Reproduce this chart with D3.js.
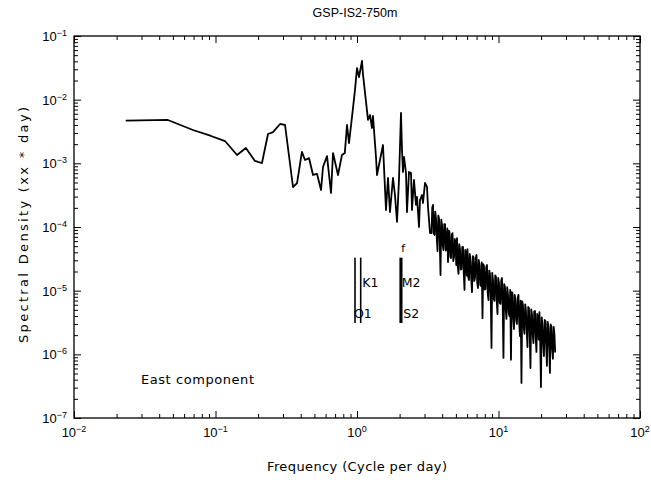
<!DOCTYPE html>
<html><head><meta charset="utf-8">
<script src="https://cdn.jsdelivr.net/npm/d3@7"></script>
<style>
body{margin:0;background:#fff}
svg{display:block}
text{font-family:"Liberation Sans",Arial,sans-serif;fill:#000}
</style>
</head><body>
<svg id="c" width="651" height="485"></svg>
<script>
// ---- data (frequency in cycles per day, spectral density in xx*day) ----
const freq = [
 0.0232,0.0461,0.0693,0.093,0.1167,0.142,0.164,0.190,0.213,0.235,
 0.255,0.286,0.310,0.353,0.377,0.408,0.429,0.458,0.489,0.522,
 0.557,0.575,0.614,0.655,0.677,0.734,0.783,0.82,0.850,0.878,
 0.922,0.968,1.0,1.033,1.085,1.10,1.158,1.196,1.236,1.276,
 1.297,1.362,1.385,1.454,1.526,1.603,1.656,1.71,1.796,1.855,
 1.918,1.98,
 2.046,2.080,2.114,2.149,2.220,2.256,2.331,2.408,2.447,2.528,
 2.612,2.655,2.743,2.787,2.880,2.927,3.024,3.124,3.175,3.281,
 3.362,3.403,3.445,3.487,3.530,3.573,3.617,3.661,3.707,3.753,3.798,3.845,3.892,3.940,3.988,4.037,4.087,4.137,4.188,4.239,
 4.291,4.344,4.397,4.451,4.506,4.561,4.617,4.674,4.731,4.789,4.848,4.908,4.968,5.029,5.090,5.153,5.216,5.280,5.345,5.411,
 5.477,5.544,5.612,5.681,5.751,5.822,5.893,5.965,6.038,6.112,6.187,6.263,6.340,6.418,6.497,6.577,6.657,6.739,6.822,6.906,
 6.990,7.076,7.163,7.251,7.340,7.430,7.521,7.613,7.707,7.802,7.897,7.994,8.092,8.191,8.292,8.394,8.497,8.601,8.707,8.814,
 8.922,9.032,9.142,9.254,9.368,9.483,9.599,9.717,9.836,9.957,10.08,10.20,10.33,10.46,10.58,10.71,10.84,10.97,11.11,11.25,
 11.38,11.52,11.66,11.80,11.95,12.10,12.25,12.40,12.55,12.70,12.86,13.02,13.18,13.34,13.50,13.67,13.84,14.01,14.18,14.35,
 14.53,14.71,14.89,15.07,15.26,15.45,15.63,15.82,16.02,16.22,16.41,16.61,16.82,17.03,17.24,17.45,17.66,17.88,18.10,18.32,
 18.54,18.77,19.00,19.23,19.47,19.71,19.95,20.20,20.44,20.69,20.95,21.21,21.46,21.72,21.99,22.26,22.54,22.82,23.09,23.37,
 23.66,23.95,24.25,24.55,24.84,25.15
];
const density = [
 4.7e-3,4.8e-3,3.34e-3,2.69e-3,2.24e-3,1.35e-3,1.74e-3,1.09e-3,1.01e-3,2.89e-3,
 3.10e-3,4.15e-3,4.0e-3,4.25e-4,4.9e-4,1.51e-3,1.13e-3,1.21e-3,6.56e-4,6.8e-4,
 3.81e-4,8.77e-4,1.30e-3,3.42e-4,1.45e-3,6.56e-4,1.35e-3,1.45e-3,4.0e-3,2.08e-3,
 5.35e-3,1.42e-2,3.14e-2,2.27e-2,4.05e-2,2.62e-2,9.2e-3,4.8e-3,5.75e-3,3.59e-3,
 5.55e-3,1.26e-3,6.56e-4,1.13e-3,1.94e-3,1.85e-4,5.89e-4,1.72e-4,5.89e-4,3.18e-4,
 1.2e-4,5.47e-4,
 6.18e-3,1.62e-3,7.31e-4,1.26e-3,7.05e-4,1.72e-4,7.31e-4,7.05e-4,1.85e-4,5.47e-4,
 2.22e-4,2.96e-4,1.0e-4,2.65e-4,3.18e-4,2.38e-4,4.91e-4,4.25e-4,2.06e-4,8.05e-5,
 8.0e-5,2.02e-4,2.22e-4,7.9e-5,7.5e-5,1.75e-4,1.34e-4,6.8e-5,4.2e-5,1.52e-4,1.38e-4,5.9e-5,1.76e-5,1.31e-4,1.08e-4,5.1e-5,4.35e-5,1.11e-4,1.11e-4,4.27e-5,
 4.5e-5,9.5e-5,2.82e-5,8.8e-5,8.35e-5,3.44e-5,3.26e-5,7.6e-5,8.0e-5,2.92e-5,3.38e-5,6.5e-5,5.6e-5,2.53e-5,6.7e-5,2.4e-5,1.83e-5,5.4e-5,4.5e-5,2.15e-5,
 2.19e-5,4.85e-5,4.85e-5,1.93e-5,1.03e-5,4.35e-5,3.9e-5,1.73e-5,4.5e-5,1.64e-5,1.47e-5,3.77e-5,2.92e-5,1.53e-5,9.5e-6,3.5e-5,3.38e-5,1.42e-5,1.58e-5,3.26e-5,
 3.63e-5,1.32e-5,1.10e-5,3.03e-5,2.53e-5,1.23e-5,1.18e-5,2.77e-5,3.7e-6,2.62e-5,2.44e-5,1.04e-5,1.06e-5,2.35e-5,2.53e-5,9.0e-6,7.1e-6,2.07e-5,1.83e-5,8.25e-6,
 1.26e-6,1.9e-5,1.47e-5,7.55e-6,6.9e-6,1.73e-5,1.64e-5,6.9e-6,4.3e-6,1.58e-5,1.32e-5,6.4e-6,6.2e-6,1.45e-5,1.58e-5,5.65e-6,8.8e-7,1.27e-5,1.14e-5,5.07e-6,
 3.6e-6,1.14e-5,8.9e-6,4.55e-6,4.0e-6,1.03e-5,8.2e-7,9.5e-6,9.2e-6,3.8e-6,2.5e-6,8.6e-6,7.1e-6,3.4e-6,3.0e-6,7.7e-6,8.6e-6,3.05e-6,1.94e-6,7.0e-6,
 3.55e-7,6.8e-6,6.0e-6,2.7e-6,2.1e-6,6.1e-6,4.8e-6,2.45e-6,1.3e-6,5.55e-6,5.35e-6,2.25e-6,6.1e-7,5.07e-6,4.3e-6,2.05e-6,1.5e-6,4.7e-6,4.8e-6,1.88e-6,
 1.09e-6,4.3e-6,3.9e-6,1.71e-6,4.6e-6,1.65e-6,3.07e-7,3.8e-6,3.0e-6,1.53e-6,9.4e-7,3.46e-6,3.35e-6,1.4e-6,6.6e-7,3.23e-6,2.7e-6,1.28e-6,5.1e-7,2.94e-6,
 2.7e-6,1.19e-6,8.5e-7,2.7e-6,2.1e-6,1.07e-6
];
// tidal constituent markers
const tidalNames = ["O1","K1","M2","S2"];
const tidalFreq  = [0.968, 1.062, 2.02, 2.07];
const tidalLabelLevel = [4.46e-6, 1.37e-5, 1.37e-5, 4.46e-6];
const tidalTop = 3.3e-5, tidalBottom = 3.1e-6;
const extraLabel = "f", extraLabelLevel = 4.7e-5;
// axis ticks
const xMajor = [1e-2,1e-1,1e0,1e1,1e2];
const xExp   = ["−2","−1","0","1","2"];
const yMajor = [1e-7,1e-6,1e-5,1e-4,1e-3,1e-2,1e-1];
const yExp   = ["−7","−6","−5","−4","−3","−2","−1"];
const titleText = "GSP-IS2-750m";
const xTitle = "Frequency (Cycle per day)";
const yTitle = "Spectral Density (xx * day)";
const noteText = "East component";

// ---- drawing ----
const L = 74, R = 640, T = 36, B = 418;
const svg = d3.select("#c");
const x = d3.scaleLog().domain([1e-2,1e2]).range([L,R]);
const y = d3.scaleLog().domain([1e-7,1e-1]).range([B,T]);

function minors(majors){
  const out=[];
  for(let i=0;i<majors.length-1;i++) for(let k=2;k<=9;k++) out.push(majors[i]*k);
  return out;
}
const xMinor = minors(xMajor), yMinor = minors(yMajor);

function axisG(axis, tx, ty){
  const g = svg.append("g").attr("transform",`translate(${tx},${ty})`).call(axis);
  g.select(".domain").remove();
  g.selectAll("text").remove();
  g.selectAll("line").attr("stroke","#000").attr("stroke-width",1);
  return g;
}
const MJ=7, MN=4;
axisG(d3.axisBottom(x).tickValues(xMajor).tickSize(-MJ),0,B);
axisG(d3.axisBottom(x).tickValues(xMinor).tickSize(-MN),0,B);
axisG(d3.axisTop(x).tickValues(xMajor).tickSize(-MJ),0,T);
axisG(d3.axisTop(x).tickValues(xMinor).tickSize(-MN),0,T);
axisG(d3.axisLeft(y).tickValues(yMajor).tickSize(-MJ),L,0);
axisG(d3.axisLeft(y).tickValues(yMinor).tickSize(-MN),L,0);
axisG(d3.axisRight(y).tickValues(yMajor).tickSize(-MJ),R,0);
axisG(d3.axisRight(y).tickValues(yMinor).tickSize(-MN),R,0);

svg.append("rect").attr("x",L).attr("y",T).attr("width",R-L).attr("height",B-T)
  .attr("fill","none").attr("stroke","#000").attr("stroke-width",1.3);

const F2 = '"DejaVu Sans",sans-serif';
// tick labels
xMajor.forEach((v,i)=>{
  const t = svg.append("text").attr("x",x(v)).attr("y",B+19).attr("text-anchor","middle")
    .attr("font-size",13);
  t.append("tspan").text("10");
  t.append("tspan").attr("dy",-5).attr("font-size",9).text(xExp[i]);
});
yMajor.forEach((v,i)=>{
  const t = svg.append("text").attr("x",L-7).attr("y",y(v)+5).attr("text-anchor","end")
    .attr("font-size",13);
  t.append("tspan").text("10");
  t.append("tspan").attr("dy",-5).attr("font-size",9).text(yExp[i]);
});

// titles
svg.append("text").attr("x",355).attr("y",17).attr("text-anchor","middle")
  .attr("font-size",12.5).text(titleText);
svg.append("text").attr("x",357).attr("y",471).attr("text-anchor","middle")
  .style("font-family",F2).attr("font-size",13)
  .attr("textLength",180).attr("lengthAdjust","spacing").text(xTitle);
svg.append("text").attr("transform",`translate(28,225) rotate(-90)`)
  .attr("text-anchor","middle").style("font-family",F2).attr("font-size",13)
  .attr("textLength",236).attr("lengthAdjust","spacing").text(yTitle);

// spectrum line
const pts = freq.map((f,i)=>({f, v:density[i]}));
svg.append("path").datum(pts)
  .attr("d", d3.line().x(d=>x(d.f)).y(d=>y(d.v)))
  .attr("fill","none").attr("stroke","#000").attr("stroke-width",1.8)
  .attr("stroke-linejoin","round");

// tidal markers
tidalFreq.forEach((f,i)=>{
  svg.append("line").attr("x1",x(f)).attr("x2",x(f))
    .attr("y1",y(tidalTop)).attr("y2",y(tidalBottom))
    .attr("stroke","#000").attr("stroke-width",1.6);
  const lx = (tidalNames[i]==="O1") ? x(f)-1 : x(f)+1.5;
  svg.append("text").attr("x",lx).attr("y",y(tidalLabelLevel[i])+5)
    .style("font-family",F2).attr("font-size",12.5).text(tidalNames[i]);
});
svg.append("text").attr("x",x(tidalFreq[2])+1).attr("y",y(extraLabelLevel)+4)
  .style("font-family",F2).attr("font-size",11).text(extraLabel);

// annotation
svg.append("text").attr("x",141).attr("y",384).style("font-family",F2).attr("font-size",13)
  .attr("textLength",113).attr("lengthAdjust","spacing").text(noteText);
</script>
</body></html>
